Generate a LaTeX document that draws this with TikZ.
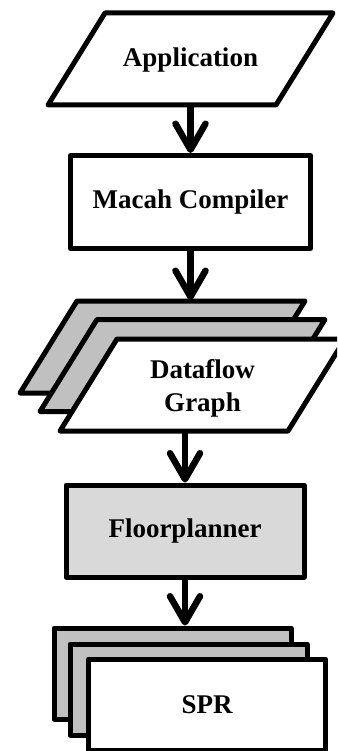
\documentclass[tikz,border=0pt]{standalone}
\usepackage{fontspec}
\setmainfont{Liberation Serif}
\usetikzlibrary{arrows.meta}

\definecolor{pagegray}{RGB}{192,192,192}
\definecolor{plangray}{RGB}{217,217,217}

\tikzset{
  page/.style={draw, line width=5pt, line join=round, fill=white},
  lbl/.style={font=\bfseries\fontsize{27}{33}\selectfont, align=center},
  box/.style={page, lbl, inner sep=0pt, minimum width=240pt, minimum height=93pt},
  sheet/.style={box, minimum width=237pt, minimum height=91pt},
  flow/.style={line width=6.5pt, -{Straight Barb[length=26pt,width=30pt,round]}}
}

% slanted sheet, given by its lower left corner
\newcommand{\slab}[2][white]{\draw[page, fill=#1] (#2) -- ++(57,-92) -- ++(228,0) -- ++(-57,92) -- cycle;}

\begin{document}
\begin{tikzpicture}[x=1pt, y=-1pt]
  \useasboundingbox (0,0) rectangle (337,751);
  \clip (0,0) rectangle (337,751);

  % Application
  \slab{48,105}
  \node[lbl] (app) at (190.5,60) {Application};
  \coordinate (app-s) at (190.5,107);

  % Compiler
  \node[box] (macah) at (190.5,202) {Macah Compiler};

  % Dataflow graph, three sheets
  \slab[pagegray]{20,393}
  \slab[pagegray]{40,411.5}
  \slab{60,431}
  \node[lbl] (dfg) at (202.5,388) {Dataflow\\Graph};
  \coordinate (dfg-n) at (190.5,300);
  \coordinate (dfg-s) at (185,433);

  % Floorplanner
  \node[box, fill=plangray, minimum width=238pt, minimum height=92pt] (floor) at (185,531) {Floorplanner};

  % SPR sheets
  \node[sheet, fill=pagegray] (spr3) at (172.5,673.5) {};
  \node[sheet, fill=pagegray] (spr2) at (188.5,689.5) {};
  \node[sheet] (spr) at (207,704.5) {SPR};

  % Arrows
  \draw[flow] (app-s) -- (macah);
  \draw[flow] (macah) -- (dfg-n);
  \draw[flow] (dfg-s) -- (floor);
  \draw[flow] (floor) -- (floor.south |- spr3.north);
\end{tikzpicture}
\end{document}
